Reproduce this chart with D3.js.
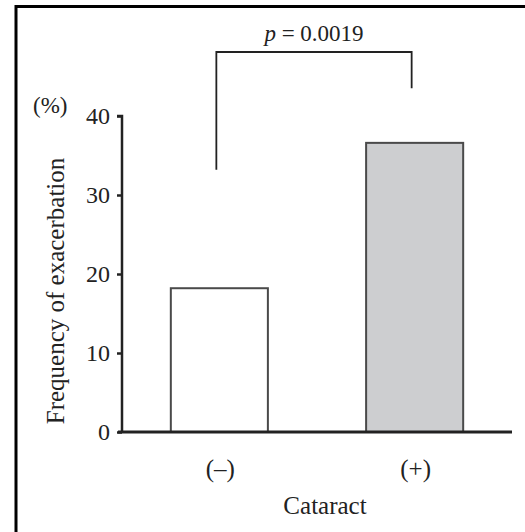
<!DOCTYPE html>
<html><head><meta charset="utf-8">
<script src="https://cdn.jsdelivr.net/npm/d3@7"></script>
<style>body{margin:0;background:#fff}svg{display:block}text{font-family:"Liberation Serif","DejaVu Serif",serif;fill:#222}</style>
</head><body>
<script>
const categories = ["(–)", "(+)"];
const values = [18.2, 36.6];
const fills = ["#ffffff", "#cdced0"];
const yTicks = [0, 10, 20, 30, 40];
const pLabel = "0.0019";
const bracketLeftEnd = 33.2, bracketRightEnd = 43.5, bracketTop = 48.1;

const W = 525, H = 532;
const svg = d3.select("body").append("svg").attr("width", W).attr("height", H);

// partial frame
svg.append("path").attr("d", `M16,${H} L16,6.5 L${W},6.5`).attr("fill","none").attr("stroke","#000").attr("stroke-width",3);

const x = d3.scaleBand().domain(categories).range([122, 512]).paddingInner(0.503).paddingOuter(0.25);
const y = d3.scaleLinear().domain([0, 40]).range([432, 116]);

// bars
svg.selectAll("rect.bar").data(categories).join("rect")
  .attr("x", d => x(d)).attr("width", x.bandwidth())
  .attr("y", (d,i) => y(values[i])).attr("height", (d,i) => y(0) - y(values[i]))
  .attr("fill", (d,i) => fills[i]).attr("stroke", "#4a4a4a").attr("stroke-width", 2);

// y axis
const ya = svg.append("g").attr("transform", "translate(122,0)")
  .call(d3.axisLeft(y).tickValues(yTicks).tickSize(5).tickPadding(7));
ya.select(".domain").attr("stroke", "#222").attr("stroke-width", 2.5).attr("d", `M-5,${y(40)}H0V${y(0)}`);
ya.selectAll(".tick line").attr("stroke", "#222").attr("stroke-width", 2.5);
ya.selectAll(".tick text").attr("font-size", 24).style("font-family", '"Liberation Serif",serif').attr("fill", "#222");

// x axis line
svg.append("line").attr("x1", 118).attr("x2", 512).attr("y1", y(0)).attr("y2", y(0))
  .attr("stroke", "#222").attr("stroke-width", 3);

// x category labels
svg.selectAll("text.cat").data(categories).join("text")
  .attr("x", d => x(d) + x.bandwidth()/2 + 1).attr("y", 477)
  .attr("text-anchor", "middle").attr("font-size", 25).text(d => d);

svg.append("text").attr("x", 325).attr("y", 514).attr("text-anchor", "middle").attr("font-size", 25).text("Cataract");

// y labels
svg.append("text").attr("transform", "translate(64,291) rotate(-90)").attr("text-anchor", "middle").attr("font-size", 25).text("Frequency of exacerbation");
svg.append("text").attr("x", 33).attr("y", 113).attr("font-size", 23).text("(%)");

// significance bracket
const bx1 = x(categories[0]) + x.bandwidth()/2 - 3;
const bx2 = x(categories[1]) + x.bandwidth()/2 - 3;
svg.append("path")
  .attr("d", `M${bx1},${y(bracketLeftEnd)} V${y(bracketTop)} H${bx2} V${y(bracketRightEnd)}`)
  .attr("fill", "none").attr("stroke", "#222").attr("stroke-width", 1.8);
const pt = svg.append("text").attr("x", (bx1 + bx2)/2).attr("y", 41).attr("text-anchor", "middle").attr("font-size", 23);
pt.append("tspan").attr("font-style", "italic").text("p");
pt.append("tspan").text(" = " + pLabel);
</script>
</body></html>
